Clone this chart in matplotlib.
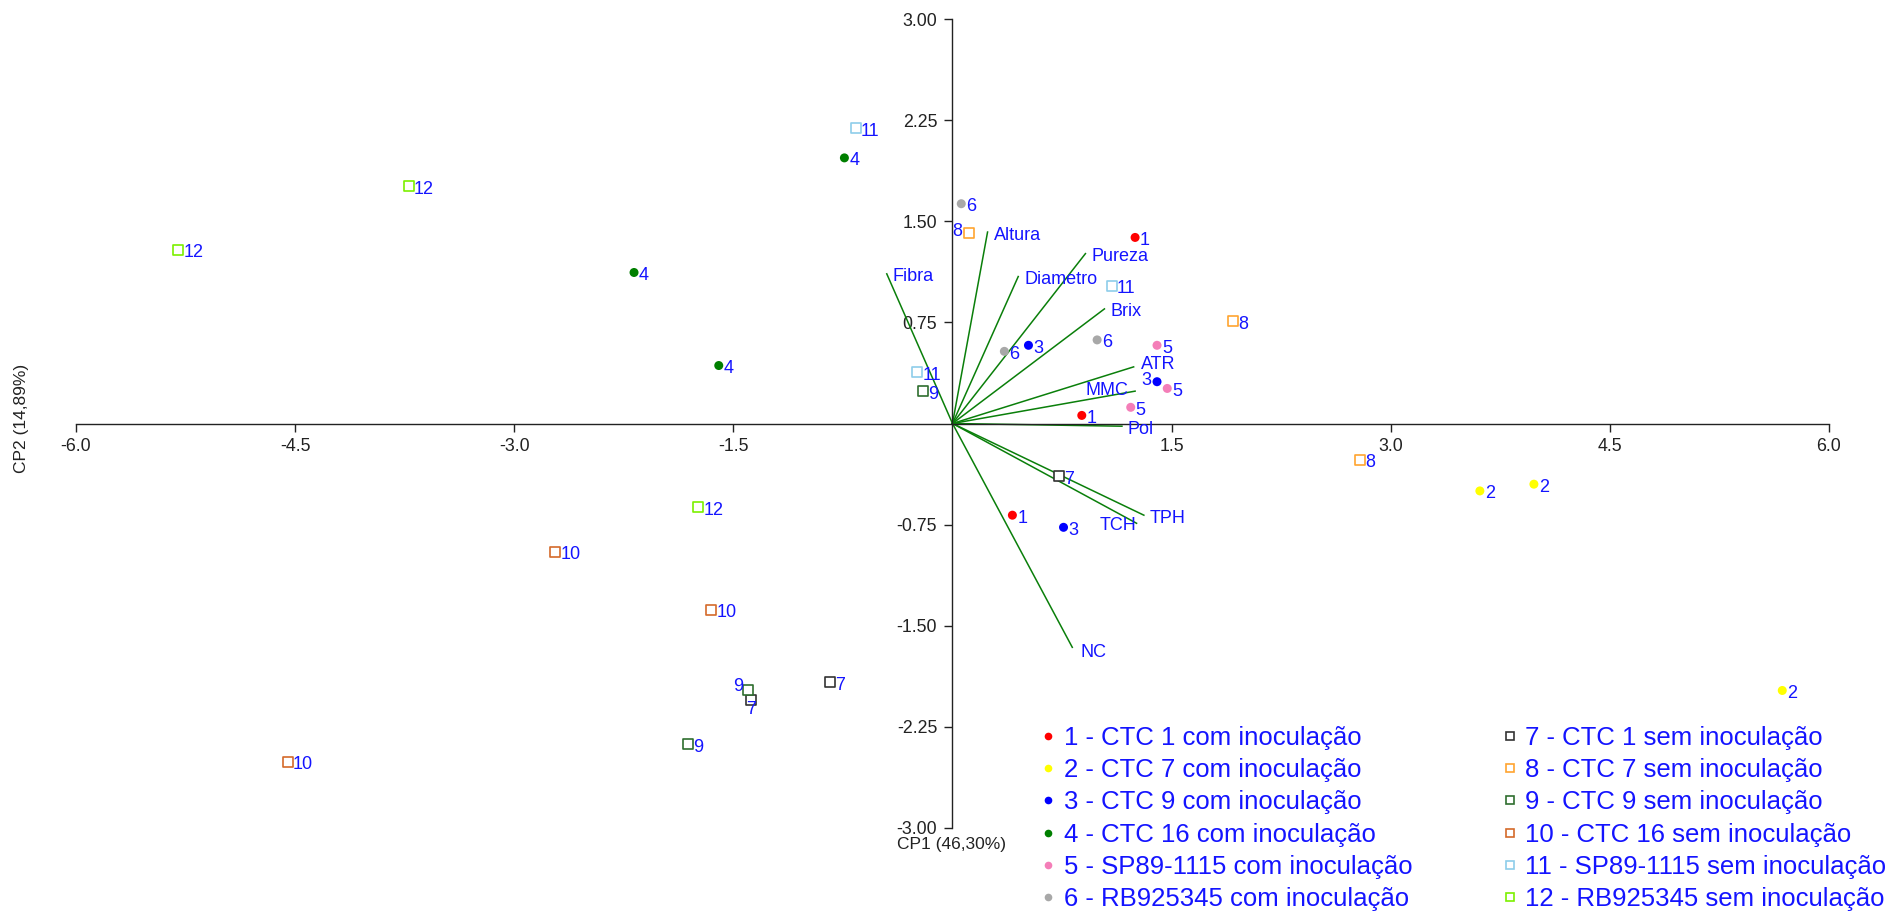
import numpy as np
import matplotlib.pyplot as plt
from matplotlib.lines import Line2D

plt.rcParams['font.family'] = ['Liberation Sans', 'DejaVu Sans']

# --> Treatment scores (three points per treatment)
treat_names = ['1 - CTC 1 com inoculação', '2 - CTC 7 com inoculação', '3 - CTC 9 com inoculação',
               '4 - CTC 16 com inoculação', '5 - SP89-1115 com inoculação', '6 - RB925345 com inoculação',
               '7 - CTC 1 sem inoculação', '8 - CTC 7 sem inoculação', '9 - CTC 9 sem inoculação',
               '10 - CTC 16 sem inoculação', '11 - SP89-1115 sem inoculação', '12 - RB925345 sem inoculação']
treat_ids = ['1', '2', '3', '4', '5', '6', '7', '8', '9', '10', '11', '12']
treat_colors = ['#FF0000', '#FFFF00', '#0000FF', '#007F00', '#F47EB8', '#A8A8A8',
                '#333333', '#FFA430', '#2F6E2F', '#D46A2A', '#8ECDEA', '#7CF000']

cp1_scores = [[1.25, 0.885, 0.41], [3.61, 3.98, 5.68], [0.52, 1.40, 0.76],
              [-0.74, -2.18, -1.60], [1.40, 1.47, 1.22], [0.06, 0.355, 0.99],
              [0.73, -0.84, -1.38], [0.11, 1.92, 2.79], [-0.20, -1.40, -1.81],
              [-2.72, -1.65, -4.55], [-0.66, 1.09, -0.24], [-3.72, -5.30, -1.74]]
cp2_scores = [[1.38, 0.06, -0.68], [-0.50, -0.45, -1.98], [0.58, 0.31, -0.77],
              [1.97, 1.12, 0.43], [0.58, 0.26, 0.12], [1.63, 0.535, 0.62],
              [-0.39, -1.92, -2.05], [1.41, 0.76, -0.27], [0.24, -1.98, -2.38],
              [-0.95, -1.38, -2.51], [2.19, 1.02, 0.38], [1.76, 1.29, -0.62]]

# --> Variable loadings
var_names = ['Fibra', 'Altura', 'Diametro', 'Pureza', 'Brix', 'ATR', 'MMC', 'Pol', 'TPH', 'TCH', 'NC']
var_cp1 = [-0.45, 0.24, 0.45, 0.91, 1.04, 1.24, 1.25, 1.16, 1.31, 1.26, 0.82]
var_cp2 = [1.11, 1.42, 1.09, 1.26, 0.85, 0.42, 0.24, -0.02, -0.68, -0.74, -1.66]

x_ticks = [-6.0, -4.5, -3.0, -1.5, 1.5, 3.0, 4.5, 6.0]
y_ticks = [3.0, 2.25, 1.5, 0.75, -0.75, -1.5, -2.25, -3.0]

# label offsets in pixels (default: right of the marker)
point_offsets = {(7, 0): (-6, 2, 'right'), (2, 1): (-6, 1, 'right'),
                 (8, 1): (-5, 4, 'right'), (6, 2): (0, -10, 'center')}
var_offsets = {'MMC': (-7, 1, 'right'), 'TCH': (0, -2, 'right'), 'ATR': (7, 2, 'left'),
               'NC': (8, -5, 'left')}

fig = plt.figure(figsize=(18.9, 9.15), dpi=100)
ax = fig.add_axes([76 / 1890, 87 / 915, 1753 / 1890, 809 / 915])
ax.set_xlim(-6, 6)
ax.set_ylim(-3, 3)

for s in ['top', 'right']:
    ax.spines[s].set_visible(False)
for s in ['left', 'bottom']:
    ax.spines[s].set_position(('data', 0))
    ax.spines[s].set_linewidth(1.0)
    ax.spines[s].set_color('#222222')

ax.set_xticks(x_ticks)
ax.set_xticklabels(['%.1f' % v for v in x_ticks])
ax.set_yticks(y_ticks)
ax.set_yticklabels(['%.2f' % v for v in y_ticks])
ax.tick_params(axis='x', direction='out', length=6, width=1, labelsize=12.8, pad=4.5, colors='#222222')
ax.tick_params(axis='y', direction='out', length=6, width=1, labelsize=12.8, pad=5, colors='#222222')

# --> Loading vectors
for name, vx, vy in zip(var_names, var_cp1, var_cp2):
    ax.plot([0, vx], [0, vy], color='#0A7F0A', lw=1.1, zorder=2)
    dx, dy, ha = var_offsets.get(name, (6, -3, 'left'))
    ax.annotate(name, (vx, vy), xytext=(dx, dy), textcoords='offset pixels',
                ha=ha, va='center', color='#1414FF', fontsize=13, zorder=4)

# --> Treatment scores
handles = []
for i in range(len(treat_names)):
    if i < 6:
        ax.scatter(cp1_scores[i], cp2_scores[i], s=42, marker='o', color=treat_colors[i],
                   edgecolors='none', zorder=3)
        h = Line2D([], [], marker='o', ls='none', markersize=5.5, color=treat_colors[i],
                   markeredgewidth=0)
    else:
        ax.scatter(cp1_scores[i], cp2_scores[i], s=50, marker='s', facecolors='white',
                   edgecolors=treat_colors[i], linewidths=1.2, zorder=3)
        h = Line2D([], [], marker='s', ls='none', markersize=6, markerfacecolor='white',
                   markeredgecolor=treat_colors[i], markeredgewidth=1.2)
    handles.append(h)
    for j in range(len(cp1_scores[i])):
        dx, dy, ha = point_offsets.get((i, j), (5, -3, 'left'))
        ax.annotate(treat_ids[i], (cp1_scores[i][j], cp2_scores[i][j]), xytext=(dx, dy),
                    textcoords='offset pixels', ha=ha, va='center', color='#1414FF',
                    fontsize=13, zorder=4)

# --> Axis titles
fig.text(22 / 1890, 1 - 418 / 915, 'CP2 (14,89%)', rotation=90, ha='center', va='center',
         fontsize=12.5, color='#222222')
fig.text(952 / 1890, 1 - 844 / 915, 'CP1 (46,30%)', ha='center', va='center',
         fontsize=12.5, color='#222222')

# --> Legend
leg = fig.legend(handles, treat_names, ncol=2, loc='upper left', frameon=False,
                 bbox_to_anchor=(1038 / 1890, 1 - 726 / 915), bbox_transform=fig.transFigure,
                 fontsize=18.5, borderpad=0, borderaxespad=0, handletextpad=0.2,
                 handlelength=0.8, labelspacing=0.32, columnspacing=3.4)
for t in leg.get_texts():
    t.set_color('#1414FF')

fig.savefig('out.png', dpi=100)
